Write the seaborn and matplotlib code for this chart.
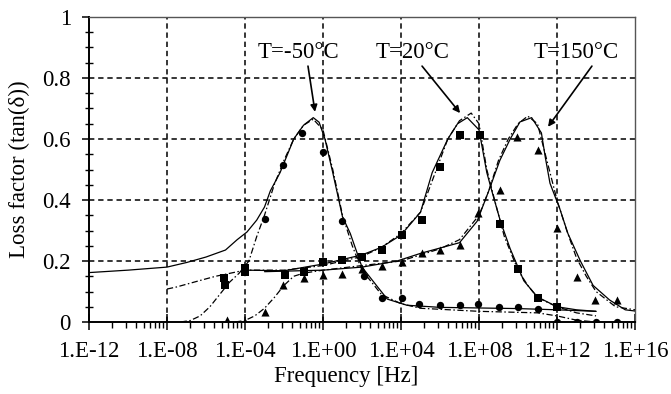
import numpy as np
import matplotlib
matplotlib.use("Agg")
import matplotlib.pyplot as plt
from matplotlib.ticker import FixedLocator, NullFormatter
import seaborn as sns

sns.set_theme(style="white")
plt.rcParams['font.family'] = ['Liberation Serif', 'DejaVu Serif']

# ---- data (log10 of frequency in Hz, loss factor) ----
m50_solid_lf = [-12, -10, -8, -7, -6, -5, -4.4, -3.9, -3.4, -3.0, -2.7, -2.2, -1.5, -1.0, -0.5, -0.2, 0.1, 0.5,
                1.0, 1.4, 2.0, 2.8, 3.3, 4.3, 6, 8, 10, 12, 14]
m50_solid_val = [0.162, 0.17, 0.18, 0.195, 0.213, 0.236, 0.27, 0.295, 0.334, 0.377, 0.43, 0.49, 0.60, 0.645, 0.67,
                 0.655, 0.60, 0.49, 0.345, 0.29, 0.18, 0.115, 0.075, 0.055, 0.048, 0.046, 0.044, 0.04, 0.035]
m50_dash_lf = [-7.3, -6.8, -6.3, -5.8, -5.3, -4.8, -4.3, -3.8, -3.4, -3.0, -2.5, -2.0, -1.5, -1.0, -0.5, 0.0, 0.5,
               1.0, 1.5, 2.0, 3.0, 4.0, 5.0, 8.0, 11.0, 12.0, 13.0, 14.0]
m50_dash_val = [0.0, 0.005, 0.02, 0.05, 0.09, 0.13, 0.16, 0.2, 0.28, 0.35, 0.45, 0.53, 0.6, 0.645, 0.665, 0.63, 0.5,
                0.35, 0.25, 0.17, 0.09, 0.06, 0.045, 0.035, 0.03, 0.02, 0.006, 0.0]
m50_pts_lf = [-2.97, -2.05, -1.08, 0.0, 0.97, 2.1, 3.0, 4.05, 4.9, 6.0, 7.0, 7.95, 9.0, 10.0, 11.0, 12.0, 13.0, 14.0, 15.1]
m50_pts_val = [0.338, 0.515, 0.62, 0.557, 0.33, 0.15, 0.08, 0.08, 0.058, 0.055, 0.055, 0.058, 0.05, 0.05, 0.042,
               0.0, 0.0, 0.0, 0.0]

t20_solid_lf = [-4, -2, 0, 2, 3, 4, 5, 5.6, 6.4, 6.9, 7.4, 8.0, 8.4, 8.7, 9.1, 9.6, 10.0, 10.3, 11.0, 12.0, 13.0, 14.0]
t20_solid_val = [0.17, 0.168, 0.19, 0.22, 0.245, 0.285, 0.36, 0.49, 0.6, 0.65, 0.67, 0.63, 0.49, 0.42, 0.33, 0.24,
                 0.18, 0.135, 0.082, 0.05, 0.04, 0.035]
t20_dash_lf = [-8, -7.5, -6.2, -5.5, -4, -2, 0, 2, 3, 4, 5, 5.7, 6.4, 7.0, 7.6, 8.0, 8.4, 8.8, 9.3, 10.0, 10.5, 11.0,
               12.0, 13.0, 14.0]
t20_dash_val = [0.108, 0.115, 0.138, 0.15, 0.17, 0.17, 0.185, 0.215, 0.245, 0.29, 0.36, 0.48, 0.6, 0.66, 0.685, 0.65,
                0.5, 0.4, 0.28, 0.17, 0.12, 0.08, 0.05, 0.03, 0.02]
t20_pts_lf = [-5.1, -5.05, -4.0, -4.0, -1.95, -1.0, 0.0, 0.97, 2.0, 3.0, 4.05, 5.1, 6.0, 7.0, 8.05, 9.1, 10.0, 11.0, 12.0]
t20_pts_val = [0.145, 0.12, 0.177, 0.165, 0.154, 0.165, 0.197, 0.203, 0.213, 0.236, 0.285, 0.334, 0.508, 0.613,
               0.613, 0.32, 0.174, 0.08, 0.05]

t150_solid_lf = [-3, 0, 2, 3.8, 5, 7, 7.9, 8.5, 9.07, 9.6, 10.1, 10.7, 11.2, 11.4, 11.64, 12.15, 12.56, 13.2, 13.85,
                 14.7, 15.5, 16]
t150_solid_val = [0.165, 0.17, 0.18, 0.2, 0.225, 0.26, 0.33, 0.43, 0.53, 0.6, 0.656, 0.67, 0.62, 0.54, 0.455, 0.37,
                  0.29, 0.2, 0.12, 0.072, 0.04, 0.036]
t150_dash_lf = [-4.5, -4, -3.5, -3, -2.5, -2, -1.5, -1, 0, 2, 4, 6, 7, 8, 8.5, 9, 9.5, 10, 10.5, 11, 11.4, 12, 12.5,
                13, 13.5, 14, 15, 16]
t150_dash_val = [0.0, 0.005, 0.02, 0.045, 0.08, 0.12, 0.15, 0.16, 0.17, 0.185, 0.2, 0.24, 0.27, 0.35, 0.43, 0.53, 0.6,
                 0.65, 0.675, 0.65, 0.55, 0.4, 0.3, 0.21, 0.15, 0.1, 0.05, 0.04]
t150_pts_lf = [-4.9, -4.0, -2.97, -2.05, -1.0, 0.0, 0.97, 2.0, 3.0, 4.05, 5.1, 6.0, 7.0, 7.95, 9.07, 9.95, 11.0, 12.0,
               13.0, 13.95, 15.1]
t150_pts_val = [0.005, 0.0, 0.033, 0.12, 0.145, 0.155, 0.158, 0.175, 0.185, 0.197, 0.226, 0.236, 0.252, 0.357, 0.433,
                0.607, 0.564, 0.308, 0.148, 0.072, 0.072]

x_major_exp = [-12, -8, -4, 0, 4, 8, 12, 16]
x_tick_labels = ["1.E-12", "1.E-08", "1.E-04", "1.E+00", "1.E+04", "1.E+08", "1.E+12", "1.E+16"]
y_ticks = [0, 0.2, 0.4, 0.6, 0.8, 1.0]
y_tick_labels = ["0", "0.2", "0.4", "0.6", "0.8", "1"]

annotations = [
    ("T=-50°C", -1.25, 0.885, -0.77, 0.839, -0.41, 0.689),
    ("T=20°C", 4.6, 0.885, 5.08, 0.839, 7.03, 0.685),
    ("T=150°C", 13.0, 0.885, 13.79, 0.839, 11.54, 0.64),
]

# ---- figure ----
W, H = 671, 394
fig = plt.figure(figsize=(W / 100, H / 100), dpi=100)
L, R, T, B = 89, 635, 17, 322
ax = fig.add_axes([L / W, (H - B) / H, (R - L) / W, (B - T) / H])
ax.set_xscale('log')
ax.set_xlim(1e-12, 1e16)
ax.set_ylim(0, 1)

ink = 'black'
dashdot = (0, (5, 2, 1.2, 2))


def f(lf):
    return 10.0 ** np.asarray(lf, dtype=float)


for lf, v in [(m50_solid_lf, m50_solid_val), (t20_solid_lf, t20_solid_val), (t150_solid_lf, t150_solid_val)]:
    sns.lineplot(x=f(lf), y=v, ax=ax, color=ink, linewidth=0.9, sort=False, estimator=None, zorder=3)
for lf, v in [(m50_dash_lf, m50_dash_val), (t20_dash_lf, t20_dash_val), (t150_dash_lf, t150_dash_val)]:
    sns.lineplot(x=f(lf), y=v, ax=ax, color=ink, linewidth=0.9, sort=False, estimator=None,
                 linestyle=dashdot, zorder=3)

sns.scatterplot(x=f(m50_pts_lf), y=m50_pts_val, ax=ax, marker='o', s=28, color=ink, linewidth=0, zorder=4)
sns.scatterplot(x=f(t20_pts_lf), y=t20_pts_val, ax=ax, marker='s', s=34, color=ink, linewidth=0, zorder=4)
sns.scatterplot(x=f(t150_pts_lf), y=t150_pts_val, ax=ax, marker='^', s=34, color=ink, linewidth=0, zorder=4)

# ticks
ax.set_xticks(f(x_major_exp))
ax.set_xticklabels(x_tick_labels)
minor = []
for e in x_major_exp[:-1]:
    for k in range(2, 10):
        minor.append(10.0 ** (e + 4 * np.log10(k)))
ax.xaxis.set_minor_locator(FixedLocator(minor))
ax.xaxis.set_minor_formatter(NullFormatter())
ax.set_yticks(y_ticks)
ax.set_yticklabels(y_tick_labels)
ax.yaxis.set_minor_locator(FixedLocator(np.arange(0.05, 1.0, 0.05)))

fs = 16.5
ax.tick_params(axis='x', which='major', direction='inout', length=12, width=1.1, color=ink,
               labelsize=fs, labelcolor=ink, pad=8, bottom=True)
ax.tick_params(axis='x', which='minor', direction='out', length=4.5, width=1.0, color=ink, bottom=True)
ax.tick_params(axis='y', which='major', direction='out', length=5, width=1.1, color=ink,
               labelsize=fs, labelcolor=ink, pad=8, left=True)
ax.tick_params(axis='y', which='minor', direction='inout', length=6, width=1.0, color=ink, left=True)

# grid
for e in x_major_exp[1:-1]:
    ax.axvline(10.0 ** e, color=ink, linewidth=1.1, linestyle=(0, (3.5, 2.5)), zorder=1)
for yv in y_ticks[1:-1]:
    ax.axhline(yv, color=ink, linewidth=1.1, linestyle=(0, (3.5, 2.5)), zorder=1)

for s in ['left', 'bottom']:
    ax.spines[s].set_color(ink)
    ax.spines[s].set_linewidth(1.4)
for s in ['top', 'right']:
    ax.spines[s].set_color('#555555')
    ax.spines[s].set_linewidth(1.0)

ax.set_xlabel("Frequency [Hz]", fontsize=fs, color=ink)
ax.set_ylabel("Loss factor (tan(δ))", fontsize=fs, color=ink)
ax.xaxis.set_label_coords((346 - L) / (R - L), (B - 366) / (B - T))
ax.yaxis.set_label_coords((30 - L) / (R - L), 0.5)

for txt, tx, ty, sx, sy, ex, ey in annotations:
    ax.text(10.0 ** tx, ty, txt, fontsize=fs, color=ink, ha='center', va='center', zorder=6)
    ax.annotate('', xy=(10.0 ** ex, ey), xytext=(10.0 ** sx, sy),
                arrowprops=dict(arrowstyle='-|>', color=ink, lw=1.2, mutation_scale=10,
                                shrinkA=0, shrinkB=0), zorder=6)

fig.savefig("out.png", dpi=100)
